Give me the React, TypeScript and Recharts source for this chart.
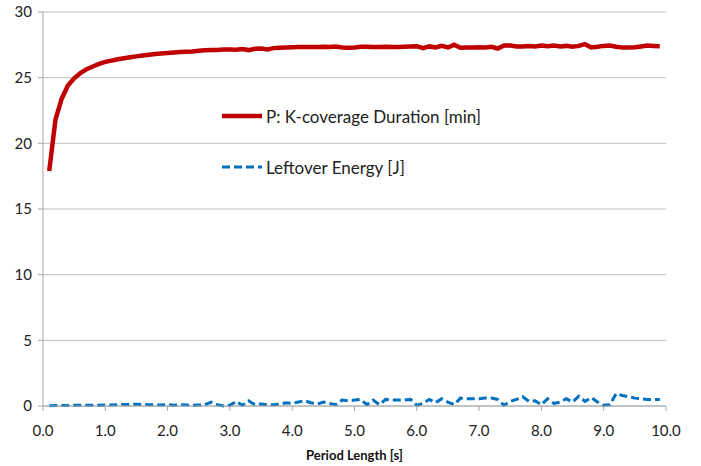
import * as React from 'react';
import { LineChart, Line, XAxis, YAxis, CartesianGrid } from 'recharts';

// period length [s]
const periods = [
  0.1, 0.2, 0.3, 0.4, 0.5, 0.6, 0.7, 0.8, 0.9, 1.0,
  1.1, 1.2, 1.3, 1.4, 1.5, 1.6, 1.7, 1.8, 1.9, 2.0,
  2.1, 2.2, 2.3, 2.4, 2.5, 2.6, 2.7, 2.8, 2.9, 3.0,
  3.1, 3.2, 3.3, 3.4, 3.5, 3.6, 3.7, 3.8, 3.9, 4.0,
  4.1, 4.2, 4.3, 4.4, 4.5, 4.6, 4.7, 4.8, 4.9, 5.0,
  5.1, 5.2, 5.3, 5.4, 5.5, 5.6, 5.7, 5.8, 5.9, 6.0,
  6.1, 6.2, 6.3, 6.4, 6.5, 6.6, 6.7, 6.8, 6.9, 7.0,
  7.1, 7.2, 7.3, 7.4, 7.5, 7.6, 7.7, 7.8, 7.9, 8.0,
  8.1, 8.2, 8.3, 8.4, 8.5, 8.6, 8.7, 8.8, 8.9, 9.0,
  9.1, 9.2, 9.3, 9.4, 9.5, 9.6, 9.7, 9.8, 9.9,
];

// P: K-coverage duration [min]
const coverage = [
  17.9, 21.8, 23.4, 24.4, 24.95, 25.35, 25.65, 25.85, 26.05, 26.2,
  26.3, 26.4, 26.48, 26.55, 26.62, 26.68, 26.74, 26.8, 26.84, 26.88,
  26.92, 26.95, 26.98, 27.0, 27.05, 27.08, 27.1, 27.1, 27.14, 27.15,
  27.12, 27.18, 27.1, 27.2, 27.22, 27.15, 27.25, 27.28, 27.3, 27.32,
  27.33, 27.33, 27.33, 27.33, 27.35, 27.33, 27.38, 27.3, 27.28, 27.3,
  27.35, 27.36, 27.33, 27.33, 27.35, 27.33, 27.34, 27.36, 27.38, 27.4,
  27.25, 27.38, 27.3, 27.42, 27.3, 27.5, 27.28, 27.3, 27.3, 27.32,
  27.3, 27.35, 27.22, 27.45, 27.45, 27.38, 27.38, 27.42, 27.38, 27.45,
  27.4, 27.45, 27.38, 27.42, 27.35, 27.42, 27.55, 27.3, 27.35, 27.42,
  27.45, 27.35, 27.3, 27.3, 27.32, 27.38, 27.45, 27.42, 27.4,
];

// Leftover energy [J]
const leftover = [
  0.02, 0.03, 0.03, 0.04, 0.05, 0.05, 0.06, 0.05, 0.06, 0.07,
  0.08, 0.1, 0.12, 0.12, 0.13, 0.12, 0.1, 0.08, 0.07, 0.12,
  0.05, 0.1, 0.08, 0.05, 0.07, 0.1, 0.3, 0.1, 0.0, 0.05,
  0.35, 0.05, 0.4, 0.1, 0.15, 0.1, 0.1, 0.15, 0.25, 0.2,
  0.3, 0.4, 0.25, 0.15, 0.3, 0.2, 0.1, 0.45, 0.4, 0.45,
  0.5, 0.1, 0.45, 0.1, 0.5, 0.45, 0.45, 0.45, 0.5, 0.05,
  0.2, 0.5, 0.25, 0.55, 0.3, 0.1, 0.6, 0.55, 0.55, 0.55,
  0.6, 0.6, 0.5, 0.05, 0.35, 0.5, 0.7, 0.35, 0.4, 0.1,
  0.55, 0.2, 0.3, 0.55, 0.3, 0.75, 0.35, 0.65, 0.3, 0.05,
  0.1, 0.95, 0.8, 0.7, 0.6, 0.55, 0.5, 0.5, 0.5,
];

const xTicks = [0, 1, 2, 3, 4, 5, 6, 7, 8, 9, 10];
const yTicks = [0, 5, 10, 15, 20, 25, 30];

const seriesNames = ['P: K-coverage Duration [min]', 'Leftover Energy [J]'];

const RED = '#c00000';
const BLUE = '#0070c0';
const FONT = 'Lato, "Open Sans", sans-serif';

const data = periods.map((p, i) => ({
  period: p,
  coverage: coverage[i],
  leftover: leftover[i],
}));

// legend sits inside the plot area, like the original Excel chart
const LegendBox = () => (
  <div
    style={{
      position: 'absolute',
      left: 222,
      top: 104,
      fontFamily: FONT,
      fontSize: 17,
      color: '#222',
      pointerEvents: 'none',
    }}
  >
    <div style={{ display: 'flex', alignItems: 'center', height: 24 }}>
      <svg width={44} height={10}>
        <line x1={0} y1={5} x2={40} y2={5} stroke={RED} strokeWidth={4.5} />
      </svg>
      <span>{seriesNames[0]}</span>
    </div>
    <div style={{ display: 'flex', alignItems: 'center', height: 24, marginTop: 27 }}>
      <svg width={44} height={10}>
        <line x1={0} y1={5} x2={40} y2={5} stroke={BLUE} strokeWidth={3} strokeDasharray="8 4" />
      </svg>
      <span>{seriesNames[1]}</span>
    </div>
  </div>
);

export default function App() {
  return (
    <div style={{ position: 'fixed', left: 0, top: 0, width: 701, height: 466, background: '#fff' }}>
      <LineChart
        width={701}
        height={466}
        data={data}
        margin={{ top: 12, right: 35, bottom: 0, left: 0 }}
      >
        <CartesianGrid vertical={false} stroke="#bfbfbf" />
        <XAxis
          dataKey="period"
          type="number"
          domain={[0, 10]}
          ticks={xTicks}
          tickFormatter={(v: number) => v.toFixed(1)}
          stroke="#a6a6a6"
          tickSize={5}
          tick={{ fill: '#222', fontSize: 15, fontFamily: FONT, dy: 12 }}
          height={60}
          label={{
            value: 'Period Length [s]',
            position: 'insideBottom',
            offset: 6,
            style: { fontFamily: FONT, fontSize: 13, fontWeight: 'bold', fill: '#111' },
          }}
        />
        <YAxis
          type="number"
          domain={[0, 30]}
          ticks={yTicks}
          stroke="#a6a6a6"
          width={43}
          tickSize={5}
          tick={{ fill: '#222', fontSize: 15, fontFamily: FONT, dx: -4 }}
        />
        <Line
          dataKey="coverage"
          name={seriesNames[0]}
          type="linear"
          stroke={RED}
          strokeWidth={4.5}
          dot={false}
          isAnimationActive={false}
        />
        <Line
          dataKey="leftover"
          name={seriesNames[1]}
          type="linear"
          stroke={BLUE}
          strokeWidth={3}
          strokeDasharray="8 4"
          dot={false}
          isAnimationActive={false}
        />
      </LineChart>
      <LegendBox />
    </div>
  );
}
